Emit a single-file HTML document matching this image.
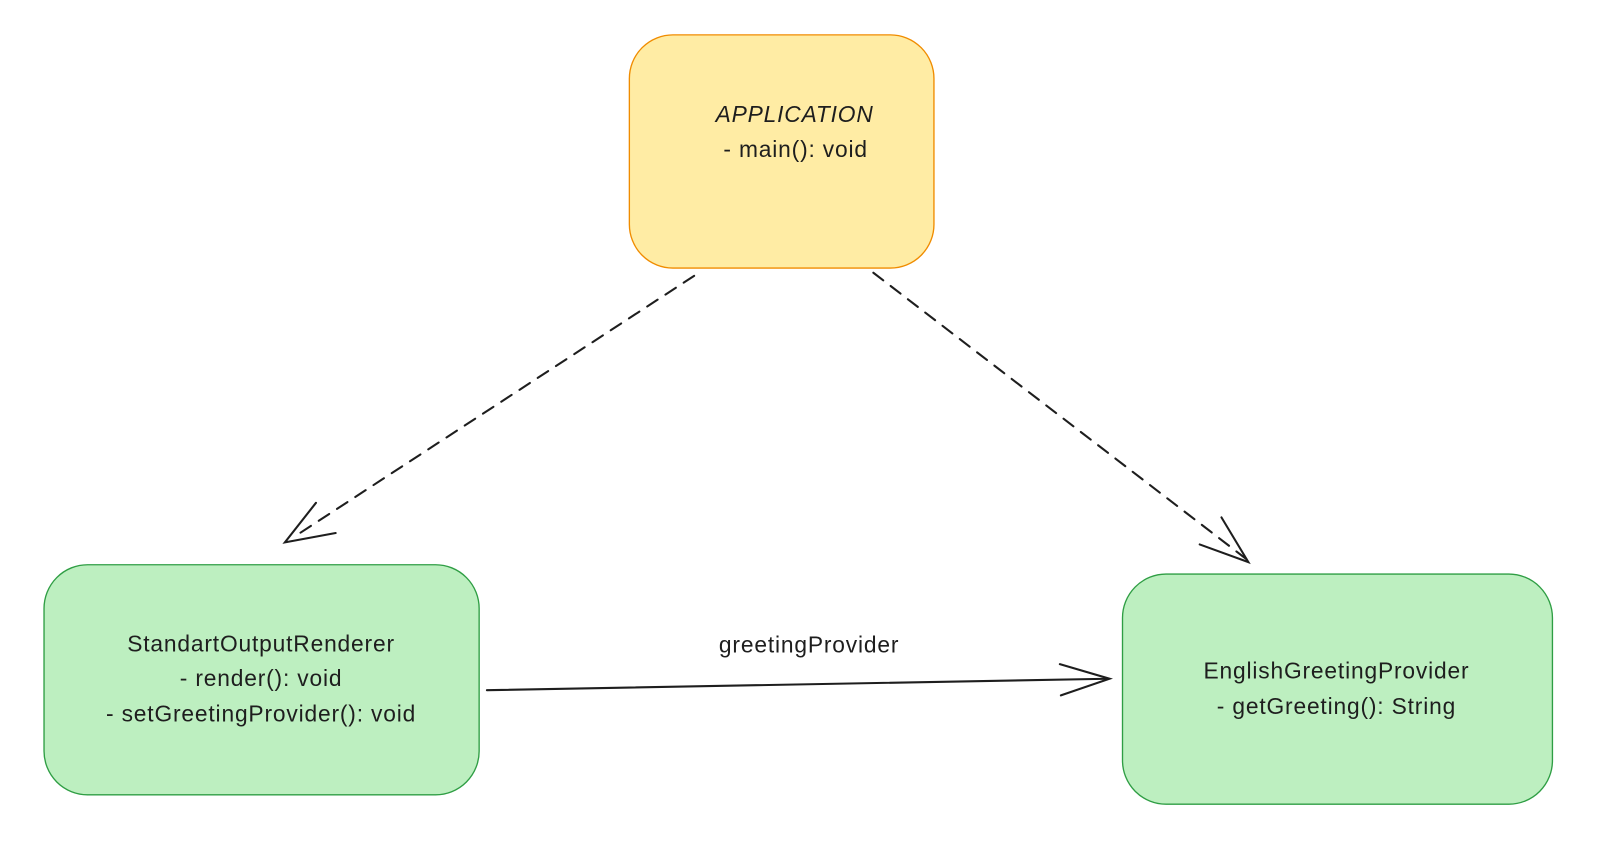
<!DOCTYPE html>
<html><head><meta charset="utf-8"><style>
html,body{margin:0;padding:0;background:#fff;}
svg{display:block}
text{font-family:"Liberation Sans",sans-serif;font-size:22px;fill:#1e1e1e;text-anchor:middle;letter-spacing:0.8px}
</style></head><body>
<svg width="1624" height="866" viewBox="0 0 1624 866">
<rect width="1624" height="866" fill="#fff"/>
<g transform="scale(1.036,1.041)">
<rect x="607.5" y="33.5" width="294" height="224" rx="42" fill="#ffeca4" stroke="#f08c00" stroke-width="1.3"/>
<rect x="42.5" y="542.5" width="420" height="221" rx="42" fill="#bdefc0" stroke="#2f9e44" stroke-width="1.3"/>
<rect x="1083.5" y="551.5" width="415" height="221" rx="42" fill="#bdefc0" stroke="#2f9e44" stroke-width="1.3"/>
<text x="767" y="117" font-style="italic">APPLICATION</text>
<text x="768" y="151">- main(): void</text>
<text x="252" y="626">StandartOutputRenderer</text>
<text x="252" y="659">- render(): void</text>
<text x="252" y="693">- setGreetingProvider(): void</text>
<text x="1290" y="652">EnglishGreetingProvider</text>
<text x="1290" y="686">- getGreeting(): String</text>
<text x="781" y="627">greetingProvider</text>
<g stroke="#1e1e1e" stroke-width="2" fill="none" stroke-linecap="round">
<path d="M670 265 L285 515" stroke-dasharray="12 9"/>
<path d="M305 483 L275 521 L324 512"/>
<path d="M843 262 L1203 537" stroke-dasharray="12 9"/>
<path d="M1179 497 L1205 540 L1158 523"/>
<path d="M470 663 L1070 652"/>
<path d="M1023 638 L1071 652 L1024 668"/>
</g>
</g>
</svg>
</body></html>
